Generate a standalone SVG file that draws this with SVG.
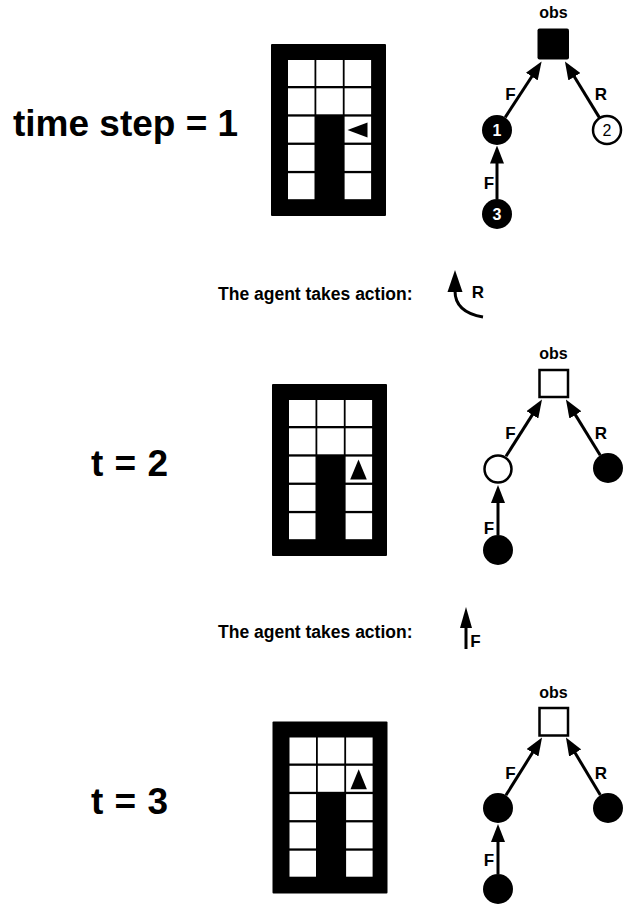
<svg xmlns="http://www.w3.org/2000/svg" width="623" height="905" viewBox="0 0 623 905">
  <style>
    text { font-family: "Liberation Sans", Arial, Helvetica, sans-serif; font-weight: bold; fill: #000; }
    .title { font-size: 37px; }
    .action { font-size: 17.5px; }
    .lbl { font-size: 17px; text-anchor: middle; }
    .obs { font-size: 16px; text-anchor: middle; }
    .num { font-size: 16px; text-anchor: middle; }
    .wall { fill: #000; }
    .cell { fill: #fff; }
    .agent { fill: #000; }
    .edge { stroke: #000; stroke-width: 3; fill: none; }
    .obsFull { fill: #000; }
    .obsEmpty { fill: #fff; stroke: #000; stroke-width: 2.5; }
    .belief { fill: #000; }
    .noBelief { fill: #fff; stroke: #000; stroke-width: 2.5; }
  </style>
  <defs>
    <marker id="head" markerUnits="userSpaceOnUse" markerWidth="18" markerHeight="14" refX="7" refY="7" orient="auto">
      <path d="M0,0 L18,7 L0,14 Z" fill="#000"/>
    </marker>
    <!-- 3x5 maze: outer wall, open cells; the middle column of the lower three rows is a wall -->
    <g id="maze">
      <rect class="wall" x="0" y="0" width="115" height="172" rx="1"/>
      <rect class="cell" x="17" y="16" width="26.5" height="26"/>
      <rect class="cell" x="45.3" y="16" width="26.5" height="26"/>
      <rect class="cell" x="73.6" y="16" width="26.5" height="26"/>
      <rect class="cell" x="17" y="44.3" width="26.5" height="26"/>
      <rect class="cell" x="45.3" y="44.3" width="26.5" height="26"/>
      <rect class="cell" x="73.6" y="44.3" width="26.5" height="26"/>
      <rect class="cell" x="17" y="72.6" width="26.5" height="26"/>
      <rect class="cell" x="73.6" y="72.6" width="26.5" height="26"/>
      <rect class="cell" x="17" y="100.9" width="26.5" height="26"/>
      <rect class="cell" x="73.6" y="100.9" width="26.5" height="26"/>
      <rect class="cell" x="17" y="129.2" width="26.5" height="26"/>
      <rect class="cell" x="73.6" y="129.2" width="26.5" height="26"/>
    </g>
  </defs>

  <!-- ===== time step 1 ===== -->
  <text class="title" x="13" y="136">time step = 1</text>
  <g id="grid1">
    <use href="#maze" x="271" y="44"/>
    <polygon class="agent" points="347.5,130 367.5,122.5 367.5,137.5"/>
  </g>

  <g id="tree1-edges">
    <line class="edge" x1="505.2" y1="117.4" x2="535.6" y2="70.7" marker-end="url(#head)"/>
    <line class="edge" x1="599.7" y1="118.1" x2="570.7" y2="70.8" marker-end="url(#head)"/>
    <line class="edge" x1="497" y1="199" x2="497" y2="156.5" marker-end="url(#head)"/>
    <text class="lbl" x="510.5" y="100">F</text>
    <text class="lbl" x="601" y="100">R</text>
    <text class="lbl" x="489" y="189">F</text>
  </g>
  <g id="t1-obs">
    <text class="obs" x="553.5" y="18">obs</text>
    <rect class="obsFull" x="537.5" y="28.5" width="31.5" height="31" rx="2"/>
  </g>
  <g id="t1-n1">
    <circle class="belief" cx="497" cy="130" r="15"/>
    <text class="num" x="497" y="136" style="fill:#fff">1</text>
  </g>
  <g id="t1-n2">
    <circle class="noBelief" cx="607" cy="130" r="14"/>
    <text class="num" x="607" y="136" style="font-weight:normal">2</text>
  </g>
  <g id="t1-n3">
    <circle class="belief" cx="497" cy="214" r="15"/>
    <text class="num" x="497" y="220" style="fill:#fff">3</text>
  </g>

  <!-- action R: turn -->
  <g id="action1">
    <text class="action" x="218" y="300">The agent takes action:</text>
    <path class="edge" d="M455,291 C455,305 465,314 483,317" stroke-width="3.3"/>
    <polygon points="455,270 447.5,292 462.5,292" fill="#000"/>
    <text class="lbl" x="478" y="298">R</text>
  </g>

  <!-- ===== t = 2 ===== -->
  <text class="title" x="91" y="476" textLength="77" lengthAdjust="spacing">t = 2</text>
  <g id="grid2">
    <use href="#maze" x="272" y="384"/>
    <polygon class="agent" points="358.5,459.5 366.8,479.5 350.2,479.5"/>
  </g>

  <g id="tree2-edges">
    <line class="edge" x1="506" y1="456.3" x2="536.1" y2="408.9" marker-end="url(#head)"/>
    <line class="edge" x1="600.2" y1="455.2" x2="571.7" y2="408.9" marker-end="url(#head)"/>
    <line class="edge" x1="498" y1="535" x2="498" y2="496" marker-end="url(#head)"/>
    <text class="lbl" x="510.5" y="439">F</text>
    <text class="lbl" x="601" y="439">R</text>
    <text class="lbl" x="489" y="534">F</text>
  </g>
  <g id="t2-obs">
    <text class="obs" x="553.5" y="359">obs</text>
    <rect class="obsEmpty" x="539.5" y="370" width="28.5" height="27"/>
  </g>
  <g id="t2-n1"><circle class="noBelief" cx="498" cy="469" r="13.5"/></g>
  <g id="t2-n2"><circle class="belief" cx="608" cy="468" r="15"/></g>
  <g id="t2-n3"><circle class="belief" cx="498" cy="550" r="15"/></g>

  <!-- action F: move forward -->
  <g id="action2">
    <text class="action" x="218" y="638">The agent takes action:</text>
    <line class="edge" x1="466" y1="625" x2="466" y2="649" stroke-width="3.3"/>
    <polygon points="466,607 460,628 472,628" fill="#000"/>
    <text class="lbl" x="475.5" y="647">F</text>
  </g>

  <!-- ===== t = 3 ===== -->
  <text class="title" x="91" y="814" textLength="77" lengthAdjust="spacing">t = 3</text>
  <g id="grid3">
    <use href="#maze" x="272.5" y="721.5"/>
    <polygon class="agent" points="358.7,769.3 366.9,789.3 350.5,789.3"/>
  </g>

  <g id="tree3-edges">
    <line class="edge" x1="505.9" y1="795.3" x2="536.2" y2="746.8" marker-end="url(#head)"/>
    <line class="edge" x1="600.3" y1="795.1" x2="571.6" y2="747" marker-end="url(#head)"/>
    <line class="edge" x1="498" y1="874" x2="498" y2="835" marker-end="url(#head)"/>
    <text class="lbl" x="510.5" y="779">F</text>
    <text class="lbl" x="601" y="779">R</text>
    <text class="lbl" x="489" y="866">F</text>
  </g>
  <g id="t3-obs">
    <text class="obs" x="553.5" y="698">obs</text>
    <rect class="obsEmpty" x="539.5" y="708" width="28.5" height="27.5"/>
  </g>
  <g id="t3-n1"><circle class="belief" cx="498" cy="808" r="15"/></g>
  <g id="t3-n2"><circle class="belief" cx="608" cy="808" r="15"/></g>
  <g id="t3-n3"><circle class="belief" cx="498" cy="889" r="15"/></g>
</svg>
